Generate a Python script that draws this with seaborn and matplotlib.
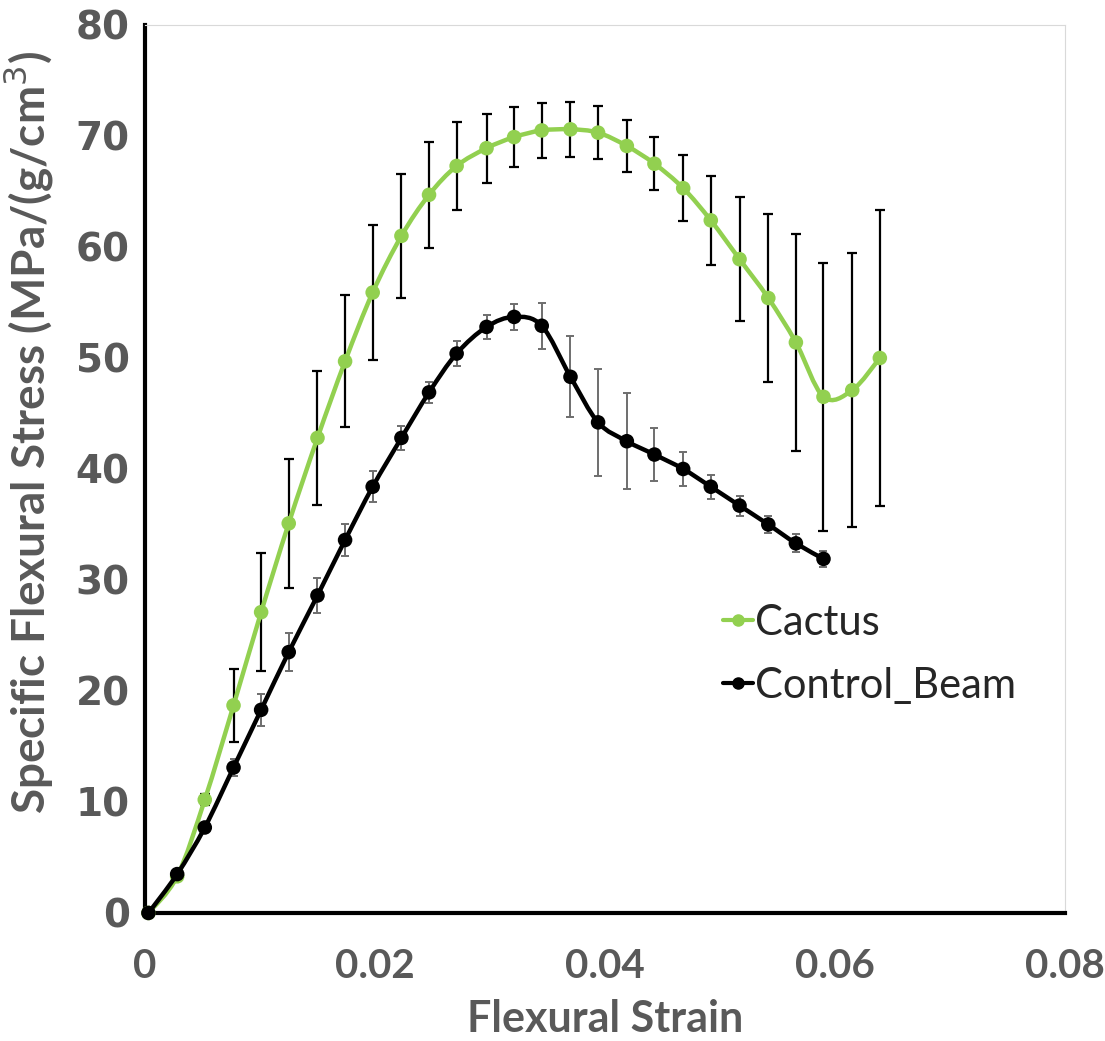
import numpy as np
import seaborn as sns
import matplotlib.pyplot as plt
from matplotlib.path import Path
from matplotlib.patches import PathPatch
from matplotlib.lines import Line2D

# values
strain = [0.0003, 0.0028, 0.0052, 0.0077, 0.0101, 0.0125, 0.0150, 0.0174, 0.0198,
          0.0223, 0.0247, 0.0271, 0.0297, 0.0321, 0.0345, 0.0370, 0.0394, 0.0419,
          0.0443, 0.0468, 0.0492, 0.0517, 0.0542, 0.0566, 0.0590, 0.0615, 0.0639]

cactus = [0.0, 3.3, 10.2, 18.7, 27.1, 35.1, 42.8, 49.7, 55.9, 61.0, 64.7, 67.3, 68.9,
          69.9, 70.5, 70.6, 70.3, 69.1, 67.5, 65.3, 62.4, 58.9, 55.4, 51.4, 46.5, 47.1, 50.0]
cactus_err = [0.0, 0.3, 0.5, 3.3, 5.3, 5.8, 6.05, 5.95, 6.05, 5.6, 4.75, 4.0, 3.1, 2.7,
              2.45, 2.5, 2.4, 2.35, 2.4, 2.95, 4.0, 5.6, 7.55, 9.8, 12.05, 12.35, 13.35]

control = [0.0, 3.5, 7.7, 13.1, 18.3, 23.5, 28.6, 33.6, 38.4, 42.8, 46.9, 50.4, 52.8,
           53.7, 52.9, 48.3, 44.2, 42.5, 41.3, 40.0, 38.4, 36.7, 35.0, 33.3, 31.9]
control_err = [0.0, 0.2, 0.3, 0.8, 1.45, 1.7, 1.6, 1.4, 1.4, 1.05, 0.95, 1.1, 1.05, 1.2,
               2.05, 3.65, 4.85, 4.3, 2.35, 1.55, 1.1, 0.9, 0.8, 0.8, 0.75]

xticks = [0, 0.02, 0.04, 0.06, 0.08]
xtick_labels = ['0', '0.02', '0.04', '0.06', '0.08']
yticks = [0, 10, 20, 30, 40, 50, 60, 70, 80]

GREEN = '#92D050'
GREY = '#595959'


def smooth_path(xs, ys):
    # Excel-style smoothed line: Bezier segments with Catmull-Rom control points
    p = np.column_stack([xs, ys])
    n = len(p)
    verts = [p[0]]
    codes = [Path.MOVETO]
    for i in range(n - 1):
        p0 = p[i - 1] if i > 0 else p[i]
        p3 = p[i + 2] if i + 2 < n else p[i + 1]
        c1 = p[i] + (p[i + 1] - p0) / 6
        c2 = p[i + 1] - (p3 - p[i]) / 6
        verts += [c1, c2, p[i + 1]]
        codes += [Path.CURVE4] * 3
    return Path(verts, codes)


sns.set_theme(style='white')
plt.rcParams['font.family'] = ['Lato', 'DejaVu Sans']

fig = plt.figure(figsize=(11.05, 10.41), dpi=100)
ax = fig.add_axes([0.1312, 0.123, 0.8326, 0.853])

n_c = len(control)

# error bars
ax.errorbar(strain, cactus, yerr=cactus_err, fmt='none', ecolor='black',
            elinewidth=1.6, capsize=3.5, capthick=1.6, zorder=2)
ax.errorbar(strain[:n_c], control, yerr=control_err, fmt='none', ecolor='#6e6e6e',
            elinewidth=1.4, capsize=3, capthick=1.4, zorder=2)

# smoothed lines
ax.add_patch(PathPatch(smooth_path(strain, cactus), fill=False, edgecolor=GREEN,
                       lw=3.2, capstyle='round', zorder=3))
ax.add_patch(PathPatch(smooth_path(strain[:n_c], control), fill=False, edgecolor='black',
                       lw=3.2, capstyle='round', zorder=5))

# markers
sns.scatterplot(x=strain, y=cactus, color=GREEN, s=110, edgecolor='none',
                ax=ax, zorder=4, clip_on=False)
sns.scatterplot(x=strain[:n_c], y=control, color='black', s=110, edgecolor='none',
                ax=ax, zorder=6, clip_on=False)

ax.set_xlim(0, 0.08)
ax.set_ylim(0, 80)
ax.set_xticks(xticks)
ax.set_xticklabels(xtick_labels)
ax.set_yticks(yticks)
ax.set_yticklabels([str(v) for v in yticks])

for lab in ax.get_xticklabels():
    lab.set_fontsize(29)
    lab.set_fontweight('bold')
    lab.set_color(GREY)
for lab in ax.get_yticklabels():
    lab.set_fontsize(28)
    lab.set_fontweight('bold')
    lab.set_color(GREY)
    lab.set_family('DejaVu Sans')

ax.tick_params(axis='x', length=0, pad=25)
ax.tick_params(axis='y', length=0, pad=11)

ax.set_xlabel('Flexural Strain', fontsize=31, fontweight='bold', color=GREY, labelpad=10)
ax.set_ylabel('Specific Flexural Stress (MPa/(g/cm$^3$)', fontsize=33,
              fontweight='bold', color=GREY)
ax.yaxis.set_label_coords(-0.098, 0.541)

for side in ['left', 'bottom']:
    ax.spines[side].set_color('black')
    ax.spines[side].set_linewidth(3)
for side in ['top', 'right']:
    ax.spines[side].set_color('#d9d9d9')
    ax.spines[side].set_linewidth(0.8)
ax.grid(False)

handles = [Line2D([], [], color=GREEN, lw=3, marker='o', markersize=8),
           Line2D([], [], color='black', lw=3, marker='o', markersize=8)]
ax.legend(handles, ['Cactus', 'Control_Beam'], loc='center left',
          bbox_to_anchor=(0.588, 0.291), frameon=False, fontsize=30,
          handlelength=0.7, handletextpad=0.05, labelspacing=0.6)

fig.savefig('out.png', dpi=100)
